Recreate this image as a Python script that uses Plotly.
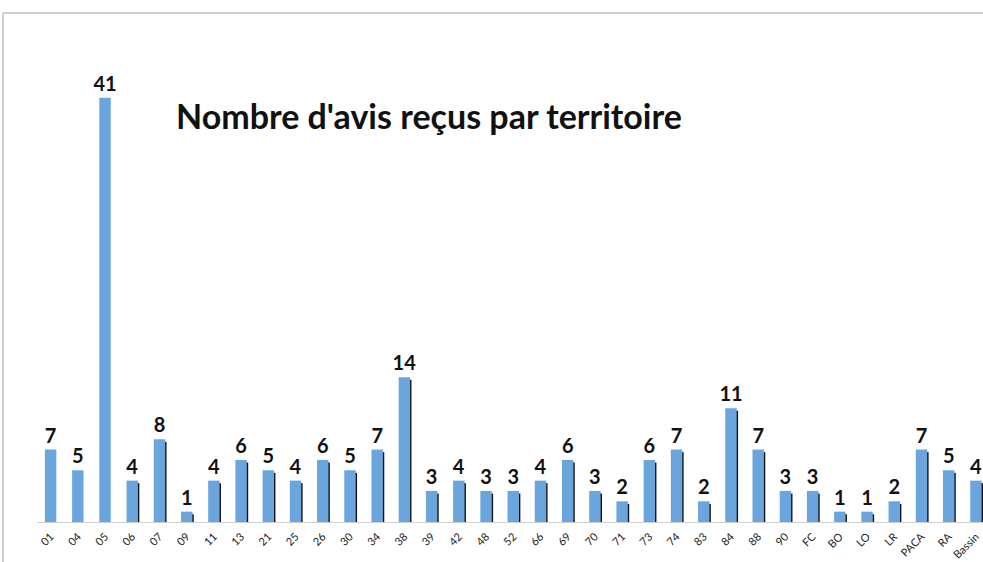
import plotly.graph_objects as go

# Data
territoires = ['01', '04', '05', '06', '07', '09', '11', '13', '21', '25',
               '26', '30', '34', '38', '39', '42', '48', '52', '66', '69',
               '70', '71', '73', '74', '83', '84', '88', '90', 'FC', 'BO',
               'LO', 'LR', 'PACA', 'RA', 'Bassin']
nb_avis = [7, 5, 41, 4, 8, 1, 4, 6, 5, 4,
           6, 5, 7, 14, 3, 4, 3, 3, 4, 6,
           3, 2, 6, 7, 2, 11, 7, 3, 3, 1,
           1, 2, 7, 5, 4]

W, H = 983, 562
ML, MT, MB = 37, 13, 40

fig = go.Figure()

# dark edge on the right of the bars (Excel shadow effect, absent on first three)
fig.add_trace(go.Bar(
    x=territoires[3:],
    y=[v - 0.25 for v in nb_avis[3:]],
    width=0.1,
    offset=0.16,
    marker=dict(color='#111111', line=dict(width=0)),
    hoverinfo='skip',
    showlegend=False,
))

fig.add_trace(go.Bar(
    x=territoires,
    y=nb_avis,
    width=0.42,
    offset=-0.21,
    marker=dict(color='#6aa5de', line=dict(width=0)),
    text=nb_avis,
    textposition='outside',
    constraintext='none',
    cliponaxis=False,
    textfont=dict(family='Lato', size=20, color='#111111', weight='bold'),
    showlegend=False,
))

# chart frame (left and top border)
px_x = lambda p: (p - ML) / (W - ML)
px_y = lambda p: (H - MB - p) / (H - MB - MT)
fig.add_shape(type='line', xref='paper', yref='paper',
              x0=px_x(3), x1=px_x(3), y0=px_y(13), y1=px_y(562),
              line=dict(color='#d0d0d0', width=2))
fig.add_shape(type='line', xref='paper', yref='paper',
              x0=px_x(3), x1=1.02, y0=px_y(13), y1=px_y(13),
              line=dict(color='#d0d0d0', width=2))

fig.add_annotation(
    text="Nombre d'avis reçus par territoire",
    xref='paper', yref='paper',
    x=px_x(429), y=px_y(115),
    xanchor='center', yanchor='middle',
    showarrow=False,
    font=dict(family='Lato', size=34, color='#111111', weight='bold'),
)

fig.update_layout(
    width=W, height=H,
    margin=dict(l=ML, r=0, t=MT, b=MB, autoexpand=False),
    barmode='overlay',
    plot_bgcolor='white',
    paper_bgcolor='white',
    xaxis=dict(
        type='category',
        categoryorder='array',
        categoryarray=territoires,
        range=[-0.5, 34.26],
        tickangle=-45,
        tickfont=dict(family='Lato', size=11, color='#222222'),
        ticklabelstandoff=3,
        automargin=False,
        showgrid=False,
        showline=True,
        linecolor='#d0d0d0',
        linewidth=1,
        ticks='',
    ),
    yaxis=dict(
        range=[0, 49.2],
        visible=False,
        showgrid=False,
    ),
)

fig.write_html('out.html', config={'displayModeBar': False},
               post_script="document.body.style.margin='0';document.body.style.overflow='hidden';")
